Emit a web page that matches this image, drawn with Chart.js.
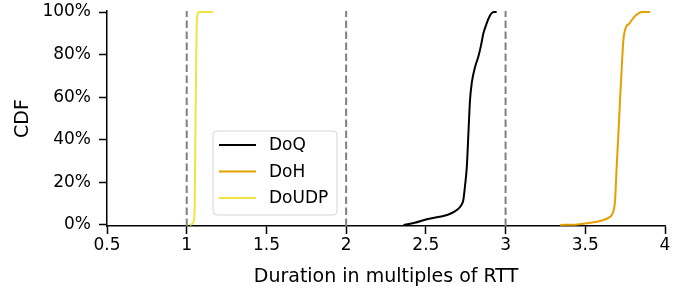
<!DOCTYPE html>
<html>
<head>
<meta charset="utf-8">
<script src="https://cdn.jsdelivr.net/npm/chart.js@4/dist/chart.umd.min.js"></script>
<style>
  html, body { margin: 0; padding: 0; background: #fff; }
  #wrap { width: 696px; height: 293px; }
</style>
</head>
<body>
<div id="wrap"><canvas id="cdf"></canvas></div>
<script>
// values (x in multiples of RTT, y as CDF fraction)
const seriesNames = ['DoQ', 'DoH', 'DoUDP'];
const doqX = [2.36, 2.43, 2.506, 2.56, 2.61, 2.66, 2.694, 2.72, 2.735, 2.745, 2.757, 2.767, 2.777, 2.788, 2.809, 2.829, 2.845, 2.861, 2.882, 2.9, 2.913, 2.93, 2.944];
const doqY = [0.0, 0.01, 0.027, 0.035, 0.042, 0.055, 0.07, 0.09, 0.117, 0.18, 0.274, 0.432, 0.587, 0.667, 0.743, 0.79, 0.84, 0.9, 0.948, 0.98, 0.995, 1.0, 1.0];
const dohX = [3.342, 3.45, 3.53, 3.58, 3.614, 3.645, 3.666, 3.68, 3.687, 3.697, 3.708, 3.718, 3.729, 3.739, 3.756, 3.775, 3.791, 3.81, 3.833, 3.86, 3.906];
const dohY = [0.0, 0.002, 0.01, 0.016, 0.023, 0.033, 0.047, 0.075, 0.117, 0.274, 0.432, 0.587, 0.743, 0.869, 0.93, 0.945, 0.962, 0.98, 0.994, 1.0, 1.0];
const udpX = [1.02, 1.035, 1.045, 1.05, 1.053, 1.056, 1.06, 1.063, 1.068, 1.075, 1.09, 1.165];
const udpY = [0.0, 0.005, 0.02, 0.08, 0.3, 0.55, 0.8, 0.95, 0.99, 1.0, 1.0, 1.0];
const rttMarks = [1, 2, 3];
const xTicks = [0.5, 1, 1.5, 2, 2.5, 3, 3.5, 4];
const yTicks = [0, 0.2, 0.4, 0.6, 0.8, 1.0];
const colors = ['#000000', '#E69F00', '#F0E442'];

const yMin = -0.005, yMax = 1.005;
const FONT = 'DejaVu Sans';

function pts(xs, ys) { return xs.map((x, i) => ({x: x, y: ys[i]})); }

const datasets = [
  {label: seriesNames[0], data: pts(doqX, doqY)},
  {label: seriesNames[1], data: pts(dohX, dohY)},
  {label: seriesNames[2], data: pts(udpX, udpY)}
].map((d, i) => Object.assign(d, {
  borderColor: colors[i], backgroundColor: colors[i], borderWidth: 2,
  pointRadius: 0, cubicInterpolationMode: 'monotone', fill: false, order: 0
}));

rttMarks.forEach(m => {
  datasets.push({
    label: '_rtt' + m, data: [{x: m, y: yMin}, {x: m, y: yMax}],
    borderColor: '#808080', borderWidth: 2, borderDash: [7.5, 3.5],
    pointRadius: 0, fill: false, order: 5
  });
});

// legend drawn inside the plot, like matplotlib's
const innerLegend = {
  id: 'innerLegend',
  afterDatasetsDraw(chart) {
    const c = chart.ctx;
    const x0 = 213, y0 = 131, w = 124, h = 84, r = 4;
    c.save();
    c.beginPath();
    c.moveTo(x0 + r, y0);
    c.arcTo(x0 + w, y0, x0 + w, y0 + h, r);
    c.arcTo(x0 + w, y0 + h, x0, y0 + h, r);
    c.arcTo(x0, y0 + h, x0, y0, r);
    c.arcTo(x0, y0, x0 + w, y0, r);
    c.closePath();
    c.fillStyle = 'rgba(255,255,255,0.85)';
    c.fill();
    c.strokeStyle = '#d6d6d6';
    c.lineWidth = 1;
    c.stroke();
    c.font = '17px "' + FONT + '"';
    c.textBaseline = 'middle';
    seriesNames.forEach((name, i) => {
      const yy = y0 + 14 + i * 26.5;
      c.beginPath();
      c.moveTo(219, yy);
      c.lineTo(256, yy);
      c.strokeStyle = colors[i];
      c.lineWidth = 2;
      c.stroke();
      c.fillStyle = '#000';
      c.fillText(name, 269, yy + 1);
    });
    c.restore();
  }
};

new Chart(document.getElementById('cdf'), {
  type: 'line',
  data: {datasets: datasets},
  options: {
    responsive: true,
    maintainAspectRatio: false,
    animation: false,
    layout: {padding: {top: 11, right: 31, bottom: 0, left: 0}},
    plugins: {legend: {display: false}, tooltip: {enabled: false}},
    scales: {
      x: {
        type: 'linear', min: 0.5, max: 4,
        afterBuildTicks: a => { a.ticks = xTicks.map(v => ({value: v})); },
        afterFit: a => { a.height = 67; a.paddingLeft = 0; a.paddingRight = 0; },
        grid: {drawOnChartArea: false, drawTicks: true, tickLength: 8, tickColor: '#000', tickWidth: 1.5},
        border: {display: true, color: '#000', width: 1.5},
        ticks: {color: '#000', font: {family: FONT, size: 17}, padding: 1, maxRotation: 0,
                callback: v => String(v)},
        title: {display: true, text: 'Duration in multiples of RTT', color: '#000',
                font: {family: FONT, size: 19}, padding: {top: 4, bottom: 5}}
      },
      y: {
        type: 'linear', min: yMin, max: yMax,
        afterBuildTicks: a => { a.ticks = yTicks.map(v => ({value: v})); },
        afterFit: a => { a.width = 107; a.paddingTop = 0; a.paddingBottom = 0; },
        grid: {drawOnChartArea: false, drawTicks: true, tickLength: 8, tickColor: '#000', tickWidth: 1.5},
        border: {display: true, color: '#000', width: 1.5},
        ticks: {color: '#000', font: {family: FONT, size: 17}, padding: 8,
                callback: v => Math.round(v * 100) + '%'},
        title: {display: true, text: 'CDF', color: '#000',
                font: {family: FONT, size: 19}, padding: {top: 12, bottom: 0}}
      }
    }
  },
  plugins: [innerLegend]
});
</script>
</body>
</html>
